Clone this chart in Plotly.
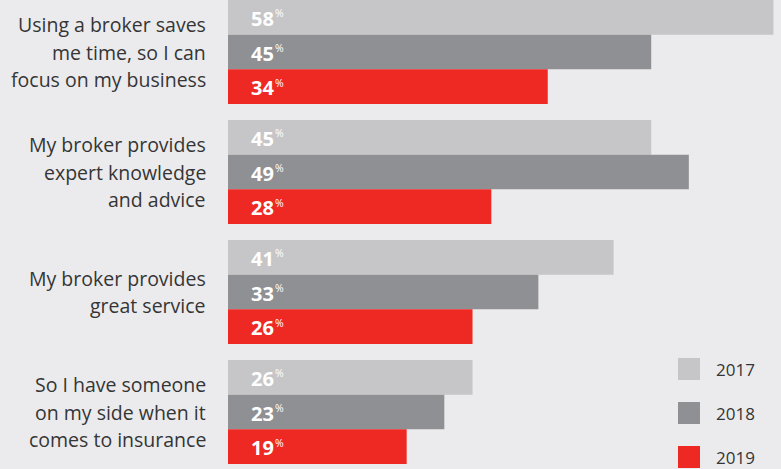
import plotly.graph_objects as go

categories = [
    "Using a broker saves<br>me time, so I can<br>focus on my business",
    "My broker provides<br>expert knowledge<br>and advice",
    "My broker provides<br>great service",
    "So I have someone<br>on my side when it<br>comes to insurance",
]
years = ["2017", "2018", "2019"]
values_2017 = [58, 45, 41, 26]
values_2018 = [45, 49, 33, 23]
values_2019 = [34, 28, 26, 19]
series = [values_2017, values_2018, values_2019]
colors = ["#c6c6c8", "#8f9093", "#ee2924"]

BG = "#ebebed"
FONT = "Open Sans"
bargap = 0.134
w = (1 - bargap) / 3
cat_idx = list(range(len(categories)))

fig = go.Figure()
for name, vals, col in zip(years, series, colors):
    fig.add_trace(go.Bar(
        y=cat_idx, x=vals, orientation="h", name=name,
        marker=dict(color=col, line=dict(width=0)),
        showlegend=False, hoverinfo="skip",
    ))

annotations = []
for k, vals in enumerate(series):
    for i, v in enumerate(vals):
        yy = i + (k - 1) * w
        annotations.append(dict(
            x=0, y=yy, xref="x", yref="y", text=str(v),
            showarrow=False, xanchor="left", yanchor="middle", xshift=21, yshift=-1,
            font=dict(family=FONT, size=20, color="white", weight="bold"),
        ))
        annotations.append(dict(
            x=0, y=yy, xref="x", yref="y", text="%",
            showarrow=False, xanchor="left", yanchor="middle", xshift=45, yshift=4,
            font=dict(family=FONT, size=10.5, color="white"),
        ))

LINE = 27.5
for i, c in enumerate(categories):
    lines = c.split("<br>")
    n = len(lines)
    for j, ln in enumerate(lines):
        annotations.append(dict(
            x=0, y=i, xref="paper", yref="y", text=ln, showarrow=False,
            xanchor="right", yanchor="middle", xshift=-20,
            yshift=((n - 1) / 2 - j) * LINE,
            font=dict(family=FONT, size=19.5, color="#353535"),
        ))

shapes = []
H = 469.0
W = 781.0
L = 228.0
for k, (name, col) in enumerate(zip(years, colors)):
    y0 = 358 + 44 * k
    x0 = 678
    shapes.append(dict(
        type="rect", xref="paper", yref="paper",
        x0=(x0 - L) / (W - L), x1=(x0 + 22 - L) / (W - L),
        y0=1 - (y0 + 22) / H, y1=1 - y0 / H,
        fillcolor=col, line=dict(width=0),
    ))
    annotations.append(dict(
        x=(714 - L) / (W - L), y=1 - (y0 + 11) / H, xref="paper", yref="paper",
        text=name, showarrow=False, xanchor="left", yanchor="middle",
        font=dict(family=FONT, size=17, color="#353535"),
    ))

fig.update_layout(
    width=781, height=469,
    margin=dict(l=228, r=0, t=0, b=0),
    paper_bgcolor=BG, plot_bgcolor=BG,
    barmode="group", bargap=bargap, bargroupgap=0,
    xaxis=dict(range=[0, 58.8], visible=False, fixedrange=True),
    yaxis=dict(type="linear", range=[3.475, -0.4333], visible=False, fixedrange=True),
    annotations=annotations, shapes=shapes,
    font=dict(family=FONT),
)

fig.write_html("out.html", config={"displayModeBar": False})
